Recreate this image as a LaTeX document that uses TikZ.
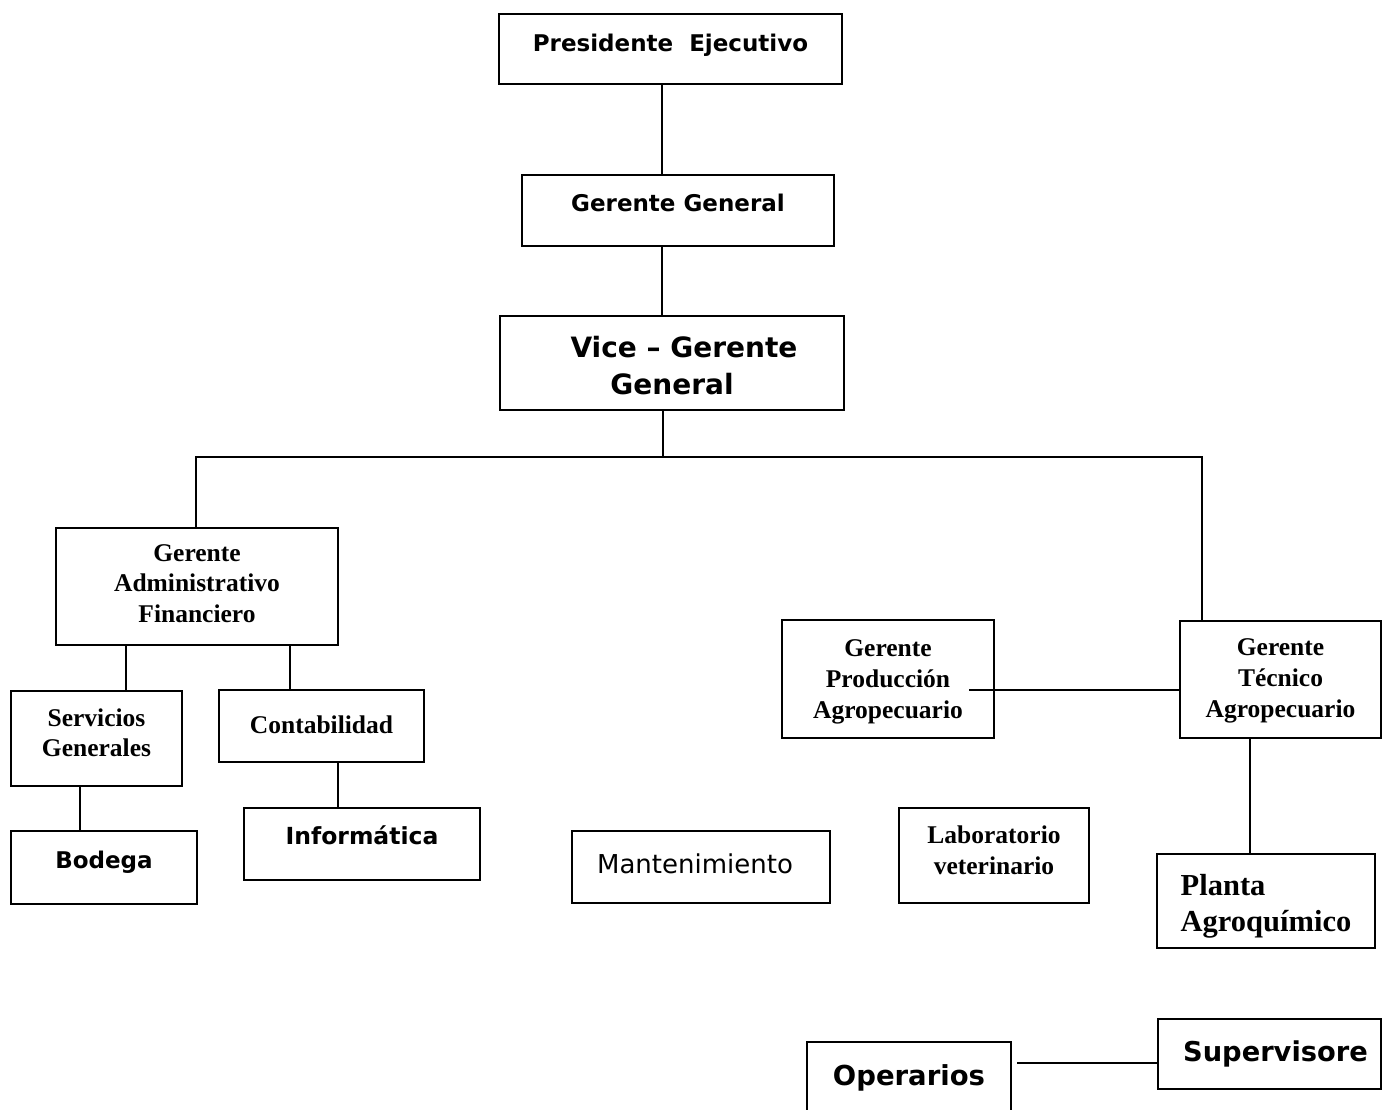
\documentclass[tikz,border=0pt]{standalone}
\usepackage{fontspec}
\newfontfamily\vsans{DejaVu Sans}
\newfontfamily\tserif{Liberation Serif}
\newcommand\lifted[2]{\raisebox{#1}[\height][\depth]{\begin{tabular}{@{}c@{}}#2\end{tabular}}}
\newcommand\liftedl[2]{\raisebox{#1}[\height][\depth]{\begin{tabular}{@{}l@{}}#2\end{tabular}}}
\begin{document}
\begin{tikzpicture}[x=1pt,y=1pt,
  box/.style={draw, line width=2.3pt, inner sep=0pt, outer sep=0pt},
  conn/.style={line width=2pt},
  vsb/.style 2 args={font=\vsans\bfseries\fontsize{#1}{#2}\selectfont},
  vsr/.style 2 args={font=\vsans\fontsize{#1}{#2}\selectfont},
  tsb/.style 2 args={font=\tserif\bfseries\fontsize{#1}{#2}\selectfont}]
\fill[white] (0,0) rectangle (1383,-1110);
\useasboundingbox (0,0) rectangle (1383,-1110);
\clip (0,0) rectangle (1383,-1110);

% top chain
\node[box, vsb={23pt}{28pt}, minimum width=343pt, minimum height=70pt] (pres) at (670.5,-49) {\lifted{3pt}{Presidente\ \ Ejecutivo}};
\node[box, vsb={23pt}{28pt}, minimum width=312pt, minimum height=71pt] (gg) at (678,-210.5) {\lifted{5pt}{Gerente General}};
\node[box, vsb={28pt}{37pt}, minimum width=344pt, minimum height=94pt] (vice) at (672,-363) {\lifted{-6pt}{\hspace*{24pt}Vice \textendash\ Gerente\\General}};

% left branch
\node[box, tsb={25.5pt}{30.5pt}, minimum width=282pt, minimum height=117pt] (gaf) at (197,-586.5) {\lifted{1pt}{Gerente\\Administrativo\\Financiero}};
\node[box, tsb={25.5pt}{30pt}, minimum width=171pt, minimum height=95pt] (sg) at (96.5,-738.5) {\lifted{3pt}{Servicios\\Generales}};
\node[box, tsb={25.5pt}{30pt}, minimum width=205pt, minimum height=72pt] (cont) at (321.5,-726) {\lifted{-1pt}{Contabilidad}};
\node[box, vsb={23pt}{28pt}, minimum width=186pt, minimum height=73pt] (bod) at (104,-867.5) {\lifted{5pt}{Bodega}};
\node[box, vsb={23.5pt}{28pt}, minimum width=236pt, minimum height=72pt] (inf) at (362,-844) {\lifted{5pt}{Inform\'atica}};

% middle
\node[box, vsr={26pt}{31pt}, minimum width=258pt, minimum height=72pt] (mant) at (701,-867) {\lifted{0pt}{Mantenimiento\hspace*{12pt}}};
\node[box, tsb={25.5pt}{31pt}, minimum width=190pt, minimum height=95pt] (lab) at (994,-855.5) {\lifted{3pt}{Laboratorio\\veterinario}};

% right branch
\node[box, tsb={25.5pt}{31pt}, minimum width=212pt, minimum height=118pt] (gp) at (888,-679) {\lifted{-2pt}{Gerente\\Producci\'on\\Agropecuario}};
\node[box, tsb={25.5pt}{31pt}, minimum width=201pt, minimum height=117pt] (gt) at (1280.5,-679.5) {\lifted{-0.5pt}{Gerente\\T\'ecnico\\Agropecuario}};
\node[box, tsb={30.5pt}{36pt}, minimum width=218pt, minimum height=94pt] (pl) at (1266,-901) {\liftedl{-5pt}{Planta\\Agroqu\'imico}};

% bottom
\node[box, vsb={27.5pt}{33pt}, minimum width=204pt, minimum height=74pt] (op) at (909,-1079) {\lifted{0pt}{Operarios}};
\node[box, vsb={27.3pt}{33pt}, minimum width=223pt, minimum height=70pt] (sup) at (1269.5,-1054) {\lifted{-1pt}{\hspace*{12pt}Supervisore}};

% connectors
\draw[conn] ([xshift=-8.5]pres.south) -- ([xshift=-16]gg.north);
\draw[conn] ([xshift=-16]gg.south) -- ([xshift=-10]vice.north);
\coordinate (vb) at ([xshift=-9]vice.south);
\coordinate (ga) at ([xshift=-1]gaf.north);
\coordinate (gta) at ([xshift=-78.5]gt.north);
\draw[conn] (vb) -- ++(0,-47);
\draw[conn] (ga) -- ++(0,71) -| (gta);

\coordinate (gs1) at ([xshift=-71]gaf.south);
\coordinate (gs2) at ([xshift=93]gaf.south);
\draw[conn] (gs1) -- (gs1 |- sg.north);
\draw[conn] (gs2) -- (gs2 |- cont.north);
\coordinate (sgb) at ([xshift=-16.5]sg.south);
\draw[conn] (sgb) -- (sgb |- bod.north);
\coordinate (cb) at ([xshift=16.5]cont.south);
\draw[conn] (cb) -- (cb |- inf.north);

\coordinate (gpe) at ([shift={(-25,-11)}]gp.east);
\draw[conn] (gpe) -- (gpe -| gt.west);
\coordinate (gtb) at ([xshift=-30.5]gt.south);
\draw[conn] (gtb) -- (gtb |- pl.north);

\coordinate (sw) at ([yshift=-9]sup.west);
\coordinate (oe) at ([xshift=6]op.east);
\draw[conn] (sw) -- (oe |- sw);
\end{tikzpicture}
\end{document}
